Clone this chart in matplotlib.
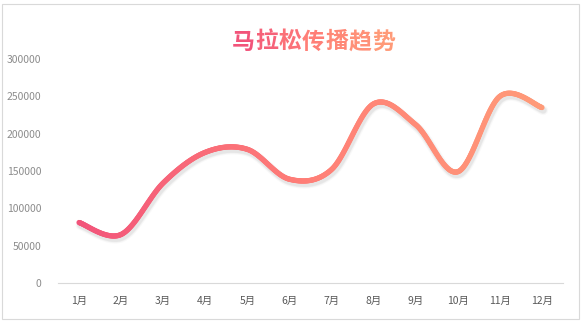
import numpy as np
import matplotlib
matplotlib.use('Agg')
import matplotlib.pyplot as plt
from matplotlib.collections import LineCollection
from matplotlib.colors import LinearSegmentedColormap
from matplotlib.patches import Rectangle
import matplotlib.transforms as mtransforms

plt.rcParams['font.family'] = ['Noto Sans CJK SC', 'DejaVu Sans']

months = ['1月', '2月', '3月', '4月', '5月', '6月', '7月', '8月', '9月', '10月', '11月', '12月']
values = [81000, 65000, 134000, 175000, 179000, 139000, 152000, 240000, 212000, 149000, 250000, 235000]
title = '马拉松传播趋势'
yticks = [0, 50000, 100000, 150000, 200000, 250000, 300000]

cmap = LinearSegmentedColormap.from_list('g', ['#F2547A', '#FF7F77', '#FF9A78'])


def smooth(xs, ys, n=40):
    # catmull-rom style smoothing like excel's smoothed line
    xs = np.asarray(xs, float)
    ys = np.asarray(ys, float)
    px = np.concatenate([[xs[0]], xs, [xs[-1]]])
    py = np.concatenate([[ys[0]], ys, [ys[-1]]])
    ox, oy = [], []
    for i in range(1, len(px) - 2):
        p0 = np.array([px[i - 1], py[i - 1]])
        p1 = np.array([px[i], py[i]])
        p2 = np.array([px[i + 1], py[i + 1]])
        p3 = np.array([px[i + 2], py[i + 2]])
        c1 = p1 + (p2 - p0) / 6
        c2 = p2 - (p3 - p1) / 6
        t = np.linspace(0, 1, n)[:, None]
        b = (1 - t) ** 3 * p1 + 3 * (1 - t) ** 2 * t * c1 + 3 * (1 - t) * t ** 2 * c2 + t ** 3 * p2
        ox.extend(b[:, 0])
        oy.extend(b[:, 1])
    return np.array(ox), np.array(oy)


fig = plt.figure(figsize=(5.82, 3.24), dpi=100)
fig.patches.append(Rectangle((2 / 582, 1 - 319 / 324), 577 / 582, 315 / 324,
                             transform=fig.transFigure, fill=False,
                             edgecolor='#D9D9D9', linewidth=0.8))

ax = fig.add_axes([58 / 582, 1 - 283 / 324, 505 / 582, 224 / 324])
x = np.arange(len(months))
sx, sy = smooth(x, values)

# soft shadow
for w, a in [(7, 0.025), (5.5, 0.035), (4.5, 0.04)]:
    off = mtransforms.offset_copy(ax.transData, fig=fig, x=1.0, y=-2.0, units='points')
    ax.plot(sx, sy, color='#000000', lw=w, alpha=a, solid_capstyle='round', transform=off)

pts = np.column_stack([sx, sy]).reshape(-1, 1, 2)
segs = np.concatenate([pts[:-1], pts[1:]], axis=1)
lc = LineCollection(segs, cmap=cmap, linewidths=3.8, capstyle='round')
lc.set_array((sx[:-1] + sx[1:]) / 2)
lc.set_clim(0, len(months) - 1)
ax.add_collection(lc)

ax.set_xlim(-0.5, 11.5)
ax.set_ylim(0, 300000)
ax.set_xticks(x)
ax.set_xticklabels(months)
ax.set_yticks(yticks)
ax.set_yticklabels([str(v) for v in yticks])
for s in ['top', 'right', 'left']:
    ax.spines[s].set_visible(False)
ax.spines['bottom'].set_color('#D9D9D9')
ax.spines['bottom'].set_linewidth(0.8)
ax.tick_params(axis='both', length=0, colors='#8C8C8C', labelsize=7.5)
ax.tick_params(axis='x', pad=9, colors='#595959')
ax.tick_params(axis='y', pad=12)

# gradient title, one character at a time
cw = 23.5
x0 = 231
for i, ch in enumerate(title):
    c = cmap(i / (len(title) - 1))
    fig.text((x0 + cw * i + cw / 2) / 582, 1 - 42 / 324, ch, color=c,
             fontsize=16.5, fontweight='bold', ha='center', va='center')

fig.savefig('out.png', dpi=100)
